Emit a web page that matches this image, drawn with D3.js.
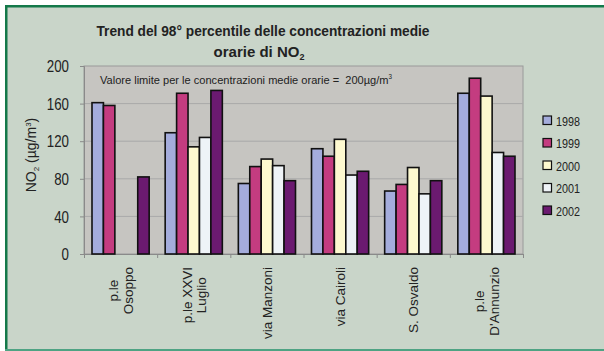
<!DOCTYPE html>
<html>
<head>
<meta charset="utf-8">
<script src="https://cdn.jsdelivr.net/npm/d3@7"></script>
<style>
  body { margin: 0; background: #fff; }
  svg { display: block; font-family: Arial, "Liberation Sans", sans-serif; }
</style>
</head>
<body>
<script>
// stations and years
const stations = [["p.le", "Osoppo"], ["p.le XXVI", "Luglio"], ["via Manzoni"], ["via Cairoli"], ["S. Osvaldo"], ["p.le", "D'Annunzio"]]
const years = ["1998", "1999", "2000", "2001", "2002"]
const colors = ["#a4acdc", "#c43c80", "#fdf9cf", "#eef3f7", "#6b1a70"]

// 98th percentile values per year (null = no data)
const v1998 = [161, 129, 75, 112, 67, 171]
const v1999 = [158, 171, 93, 104, 74, 187]
const v2000 = [null, 114, 101, 122, 92, 168]
const v2001 = [null, 124, 94, 84, 64, 108]
const v2002 = [82, 174, 78, 88, 78, 104]
const series = [v1998, v1999, v2000, v2001, v2002]
const yTicks = [0, 40, 80, 120, 160, 200]

const W = 604, H = 351
const svg = d3.select("body").append("svg").attr("width", W).attr("height", H)

// background + frame
svg.append("rect").attr("x", 5).attr("y", 5).attr("width", W - 5).attr("height", H - 7).attr("fill", "#c9d5c9")
svg.append("rect").attr("x", 5).attr("y", 5).attr("width", W - 5).attr("height", 2.5).attr("fill", "#14794a")
svg.append("rect").attr("x", 5).attr("y", 5).attr("width", 2.5).attr("height", H - 5).attr("fill", "#14794a")
svg.append("rect").attr("x", 5).attr("y", H - 2).attr("width", W - 5).attr("height", 2).attr("fill", "#4ea383")

const pLeft = 84, pRight = 523, pTop = 66, pBottom = 254

const x = d3.scaleBand().domain(d3.range(stations.length)).range([pLeft, pRight]).paddingInner(0).paddingOuter(0)
const xi = d3.scaleBand().domain(d3.range(years.length)).range([0, x.bandwidth()]).paddingOuter(0.7).paddingInner(0)
const y = d3.scaleLinear().domain([0, 200]).range([pBottom, pTop])

// plot area
svg.append("rect").attr("x", pLeft).attr("y", pTop).attr("width", pRight - pLeft).attr("height", pBottom - pTop)
    .attr("fill", "#c6c5c1").attr("stroke", "#9a9a9a").attr("stroke-width", 1)

// gridlines
svg.append("g").selectAll("line").data(yTicks.slice(1, -1)).enter().append("line")
    .attr("x1", pLeft).attr("x2", pRight)
    .attr("y1", d => y(d)).attr("y2", d => y(d))
    .attr("stroke", "#a9a9a9").attr("stroke-width", 1)

// y axis
const yAxis = svg.append("g").attr("transform", `translate(${pLeft},0)`)
    .call(d3.axisLeft(y).tickValues(yTicks).tickSize(4).tickPadding(11))
yAxis.select(".domain").attr("stroke", "#8a8a8a")
yAxis.selectAll(".tick line").attr("stroke", "#8a8a8a")
yAxis.selectAll("text").attr("font-size", 16).attr("fill", "#222").attr("font-family", "Arial, sans-serif")
    .attr("dy", "0.36em")
    .attr("textLength", d => String(d).length * 7.4).attr("lengthAdjust", "spacingAndGlyphs")

// x axis baseline + ticks
const xAxis = svg.append("g").attr("transform", `translate(0,${pBottom})`)
    .call(d3.axisBottom(d3.scaleLinear().domain([0, stations.length]).range([pLeft, pRight])).ticks(stations.length).tickSize(4).tickFormat(""))
xAxis.select(".domain").attr("stroke", "#8a8a8a")
xAxis.selectAll(".tick line").attr("stroke", "#8a8a8a")

// bars
series.forEach((vals, s) => {
    svg.append("g").selectAll("rect")
        .data(vals.map((v, i) => ({ v: v, i: i })).filter(d => d.v != null))
        .enter()
        .append("rect")
        .attr("x", d => x(d.i) + xi(s))
        .attr("y", d => y(d.v))
        .attr("width", xi.bandwidth())
        .attr("height", d => y(0) - y(d.v))
        .attr("fill", colors[s])
        .attr("stroke", "#111")
        .attr("stroke-width", 1.6)
})

// category labels (rotated, lines centred on the longest one, block starts at top)
stations.forEach((lines, i) => {
    const cx = x(i) + x.bandwidth() / 2
    const g = svg.append("g").attr("transform", `translate(${cx},267) rotate(-90)`)
    const texts = lines.map((t, k) => g.append("text")
        .attr("y", (k - (lines.length - 1) / 2) * 14.5 + 5)
        .attr("text-anchor", "middle")
        .attr("font-size", 13.5).attr("fill", "#222")
        .text(t))
    const maxLen = d3.max(texts, t => t.node().getComputedTextLength())
    texts.forEach(t => t.attr("x", -maxLen / 2))
})

// title
const title = svg.append("text").attr("text-anchor", "middle").attr("font-weight", "bold")
    .attr("font-size", 15).attr("fill", "#222")
title.append("tspan").attr("x", 263).attr("y", 36)
    .attr("textLength", 333).attr("lengthAdjust", "spacingAndGlyphs")
    .text("Trend del 98° percentile delle concentrazioni medie")
const t2 = title.append("tspan").attr("x", 259).attr("y", 57)
t2.append("tspan").text("orarie di NO")
t2.append("tspan").attr("font-size", 9).attr("dy", 3).text("2")

// annotation
const ann = svg.append("text").attr("x", 100).attr("y", 84).attr("font-size", 11.5).attr("fill", "#222")
    .attr("textLength", 292).attr("lengthAdjust", "spacingAndGlyphs")
ann.append("tspan").text("Valore limite per le concentrazioni medie orarie = \u00a0200µg/m")
ann.append("tspan").attr("font-size", 6.5).attr("dy", -5).text("3")

// y axis title
const yl = svg.append("text").attr("transform", "translate(36,155) rotate(-90)")
    .attr("text-anchor", "middle").attr("font-size", 14).attr("fill", "#222")
yl.append("tspan").text("NO")
yl.append("tspan").attr("font-size", 8).attr("dy", 3).text("2")
yl.append("tspan").attr("dy", -3).text(" (µg/m")
yl.append("tspan").attr("font-size", 8).attr("dy", -5).text("3")
yl.append("tspan").attr("dy", 5).text(")")

// legend
const leg = svg.append("g").attr("transform", "translate(543,116)")
years.forEach((yr, k) => {
    leg.append("rect").attr("x", 0).attr("y", k * 22.5).attr("width", 8.5).attr("height", 8.5)
        .attr("fill", colors[k]).attr("stroke", "#111").attr("stroke-width", 1.2)
    leg.append("text").attr("x", 13).attr("y", k * 22.5 + 9.5).attr("font-size", 13).attr("fill", "#222")
        .attr("textLength", 24).attr("lengthAdjust", "spacingAndGlyphs")
        .text(yr)
})
</script>
</body>
</html>
